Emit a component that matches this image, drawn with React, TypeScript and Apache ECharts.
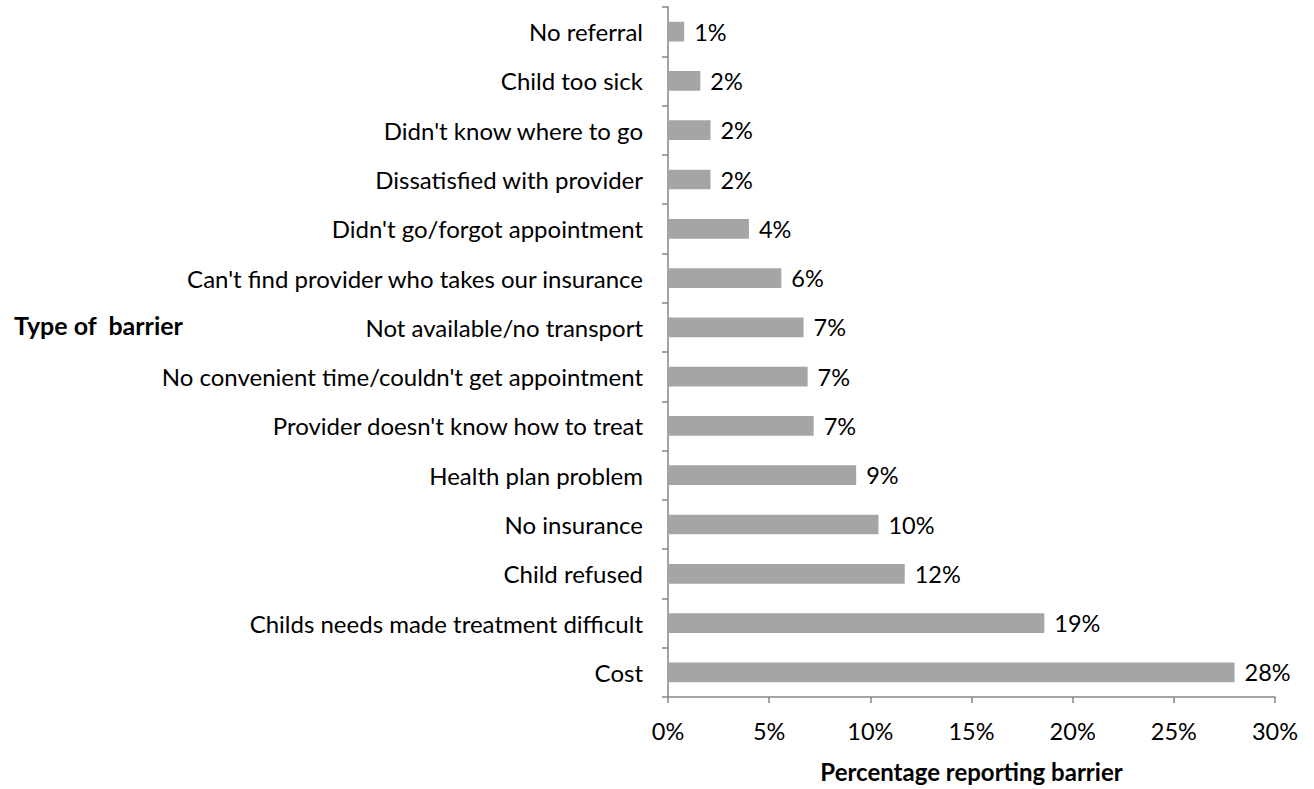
import React, { useEffect, useRef } from "react";
import * as echarts from "echarts";

const categories = [
  "Cost",
  "Childs needs made treatment difficult",
  "Child refused",
  "No insurance",
  "Health plan problem",
  "Provider doesn't know how to treat",
  "No convenient time/couldn't get appointment",
  "Not available/no transport",
  "Can't find provider who takes our insurance",
  "Didn't go/forgot appointment",
  "Dissatisfied with provider",
  "Didn't know where to go",
  "Child too sick",
  "No referral",
];
const values = [28.0, 18.6, 11.7, 10.4, 9.3, 7.2, 6.9, 6.7, 5.6, 4.0, 2.1, 2.1, 1.6, 0.8];
const xTicks = [0, 5, 10, 15, 20, 25, 30];

const FONT = "Lato";

export default function App() {
  const ref = useRef<HTMLDivElement>(null);
  useEffect(() => {
    const chart = echarts.init(ref.current!, null, { renderer: "svg" });
    chart.setOption({
      animation: false,
      backgroundColor: "#ffffff",
      textStyle: { fontFamily: FONT },
      grid: { left: 668, right: 39, top: 7, bottom: 92, containLabel: false, outerBoundsMode: "none" },
      xAxis: {
        type: "value",
        min: xTicks[0],
        max: xTicks[xTicks.length - 1],
        interval: 5,
        name: "Percentage reporting barrier",
        nameLocation: "middle",
        nameGap: 62,
        nameTextStyle: { fontFamily: FONT, fontSize: 24, fontWeight: "bold", color: "#000" },
        axisLine: { show: true, lineStyle: { color: "#868686", width: 1.5 } },
        axisTick: { show: true, length: 6, lineStyle: { color: "#868686", width: 1.5 } },
        axisLabel: { formatter: "{value}%", fontFamily: FONT, fontSize: 23.5, color: "#000", margin: 22 },
        splitLine: { show: false },
      },
      yAxis: {
        type: "category",
        data: categories,
        axisLine: { show: true, lineStyle: { color: "#868686", width: 1.5 } },
        axisTick: { show: true, length: 6, lineStyle: { color: "#868686", width: 1.5 } },
        axisLabel: { fontFamily: FONT, fontSize: 24, color: "#000", margin: 25 },
      },
      graphic: [
        {
          type: "text",
          left: 14,
          top: 312,
          style: { text: "Type of  barrier", font: `bold 25px ${FONT}`, fill: "#000" },
        },
      ],
      series: [
        {
          type: "bar",
          data: values,
          barCategoryGap: "60%",
          itemStyle: { color: "#a5a5a5" },
          label: {
            show: true,
            position: "right",
            distance: 10,
            fontFamily: FONT,
            fontSize: 23.5,
            color: "#000",
            formatter: (p: any) => Math.round(p.value) + "%",
          },
        },
      ],
    });
    return () => chart.dispose();
  }, []);
  return <div ref={ref} style={{ width: 1314, height: 789, position: "absolute", left: 0, top: 0 }} />;
}
